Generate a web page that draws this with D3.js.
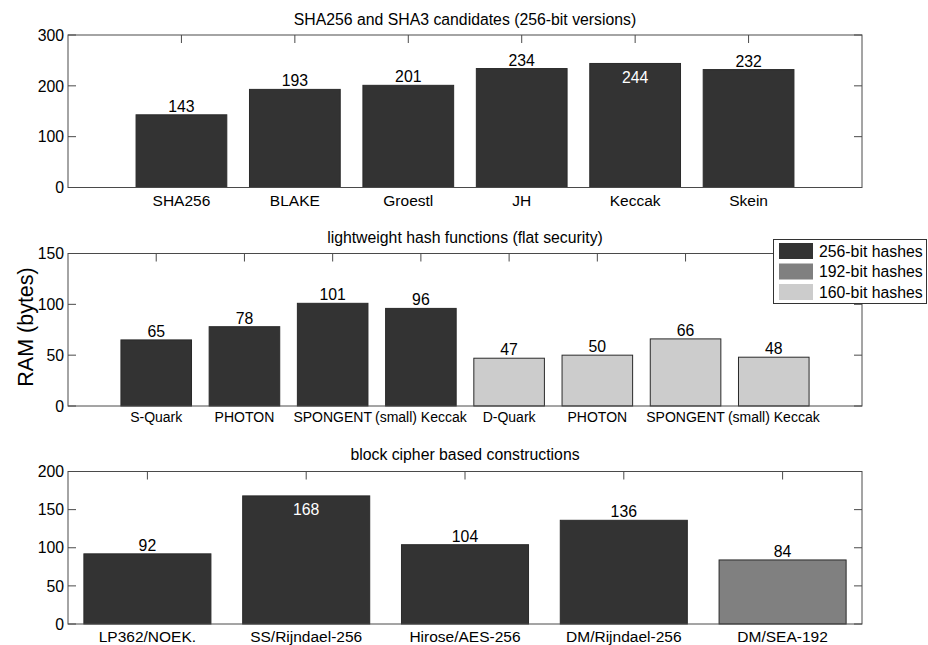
<!DOCTYPE html>
<html>
<head>
<meta charset="utf-8">
<script src="https://cdn.jsdelivr.net/npm/d3@7"></script>
<style>
  body { margin: 0; background: #fff; }
  svg { display: block; font-family: "Liberation Sans", Arial, Helvetica, sans-serif; }
</style>
</head>
<body>
<svg id="chart" width="928" height="645"></svg>
<script>
// ---- data ----
const sha3Title = "SHA256 and SHA3 candidates (256-bit versions)";
const sha3Labels = ["SHA256", "BLAKE", "Groestl", "JH", "Keccak", "Skein"];
const sha3Values = [143, 193, 201, 234, 244, 232];
const sha3Class = ["256", "256", "256", "256", "256", "256"];
const sha3Ticks = [0, 100, 200, 300];

const lwTitle = "lightweight hash functions (flat security)";
const lwLabels = ["S-Quark", "PHOTON", "SPONGENT", "(small) Keccak", "D-Quark", "PHOTON", "SPONGENT", "(small) Keccak"];
const lwValues = [65, 78, 101, 96, 47, 50, 66, 48];
const lwClass = ["256", "256", "256", "256", "160", "160", "160", "160"];
const lwTicks = [0, 50, 100, 150];

const bcTitle = "block cipher based constructions";
const bcLabels = ["LP362/NOEK.", "SS/Rijndael-256", "Hirose/AES-256", "DM/Rijndael-256", "DM/SEA-192"];
const bcValues = [92, 168, 104, 136, 84];
const bcClass = ["256", "256", "256", "256", "192"];
const bcTicks = [0, 50, 100, 150, 200];

const legendKeys = ["256", "192", "160"];
const legendLabels = ["256-bit hashes", "192-bit hashes", "160-bit hashes"];
const yAxisLabel = "RAM (bytes)";

// ---- styles ----
const colors = { "256": "#333333", "192": "#808080", "160": "#cccccc" };
const axisColor = "#4a4a4a";
const left = 68, right = 862;
const fs = "15.8px";

const svg = d3.select("#chart");

function panel(cfg) {
  const { title, labels, values, cls, ticks, top, bottom, xlim, titleY, labelDy, labelSize } = cfg;
  const x = d3.scaleLinear().domain(xlim).range([left, right]);
  const y = d3.scaleLinear().domain([ticks[0], ticks[ticks.length - 1]]).range([bottom, top]);
  const g = svg.append("g");
  const ymax = ticks[ticks.length - 1];
  const bw = x(0.8) - x(0);

  // title
  g.append("text").attr("x", (left + right) / 2).attr("y", titleY)
    .attr("text-anchor", "middle").attr("font-size", fs).attr("fill", "#000").text(title);

  // y ticks (inward, both sides)
  ticks.forEach(t => {
    g.append("line").attr("x1", left).attr("x2", left + 8).attr("y1", y(t)).attr("y2", y(t))
      .attr("stroke", axisColor);
    g.append("line").attr("x1", right).attr("x2", right - 8).attr("y1", y(t)).attr("y2", y(t))
      .attr("stroke", axisColor);
    g.append("text").attr("x", left - 4).attr("y", y(t)).attr("dy", "0.36em")
      .attr("text-anchor", "end").attr("font-size", fs).attr("fill", "#000").text(t);
  });
  // x ticks (inward top & bottom)
  labels.forEach((l, i) => {
    const cx = x(i + 1);
    g.append("line").attr("x1", cx).attr("x2", cx).attr("y1", top).attr("y2", top + 8).attr("stroke", axisColor);
    g.append("line").attr("x1", cx).attr("x2", cx).attr("y1", bottom).attr("y2", bottom - 8).attr("stroke", axisColor);
    g.append("text").attr("x", cx).attr("y", bottom + labelDy)
      .attr("text-anchor", "middle").attr("font-size", labelSize).attr("fill", "#000").text(l);
  });

  // bars
  g.selectAll("rect.bar").data(values).join("rect").attr("class", "bar")
    .attr("x", (d, i) => x(i + 1) - bw / 2)
    .attr("width", bw)
    .attr("y", d => y(d))
    .attr("height", d => y(0) - y(d))
    .attr("fill", (d, i) => colors[cls[i]])
    .attr("stroke", "#2a2a2a").attr("stroke-width", 1);

  // value labels
  g.selectAll("text.val").data(values).join("text").attr("class", "val")
    .attr("x", (d, i) => x(i + 1))
    .attr("y", d => d / ymax > 0.8 ? y(d) + 19.5 : y(d) - 3)
    .attr("text-anchor", "middle").attr("font-size", fs)
    .attr("fill", d => d / ymax > 0.8 ? "#fff" : "#000")
    .text(d => d);

  // frame
  g.append("rect").attr("x", left).attr("y", top).attr("width", right - left).attr("height", bottom - top)
    .attr("fill", "none").attr("stroke", axisColor).attr("stroke-width", 1);
  return { x, y };
}

panel({ title: sha3Title, labels: sha3Labels, values: sha3Values, cls: sha3Class, ticks: sha3Ticks,
  top: 35, bottom: 187.5, xlim: [0, sha3Labels.length + 1], titleY: 24.5, labelDy: 18, labelSize: "15.5px" });
panel({ title: lwTitle, labels: lwLabels, values: lwValues, cls: lwClass, ticks: lwTicks,
  top: 253.5, bottom: 406, xlim: [0, lwLabels.length + 1], titleY: 242.5, labelDy: 15.5, labelSize: "14px" });
panel({ title: bcTitle, labels: bcLabels, values: bcValues, cls: bcClass, ticks: bcTicks,
  top: 471.5, bottom: 624, xlim: [0.5, bcLabels.length + 0.5], titleY: 460, labelDy: 17.5, labelSize: "15.5px" });

// y axis label
svg.append("text").attr("transform", "translate(33,327) rotate(-90)")
  .attr("text-anchor", "middle").attr("font-size", "21.5px").attr("fill", "#000").text(yAxisLabel);

// legend
const lg = svg.append("g");
lg.append("rect").attr("x", 773.5).attr("y", 239.5).attr("width", 153).attr("height", 64)
  .attr("fill", "#fff").attr("stroke", "#333").attr("stroke-width", 1);
legendKeys.forEach((k, i) => {
  const cy = 251 + i * 20.5;
  lg.append("rect").attr("x", 779).attr("y", cy - 8).attr("width", 34).attr("height", 16)
    .attr("fill", colors[k]);
  lg.append("text").attr("x", 819).attr("y", cy).attr("dy", "0.36em")
    .attr("font-size", fs).attr("fill", "#000").text(legendLabels[i]);
});
</script>
</body>
</html>
